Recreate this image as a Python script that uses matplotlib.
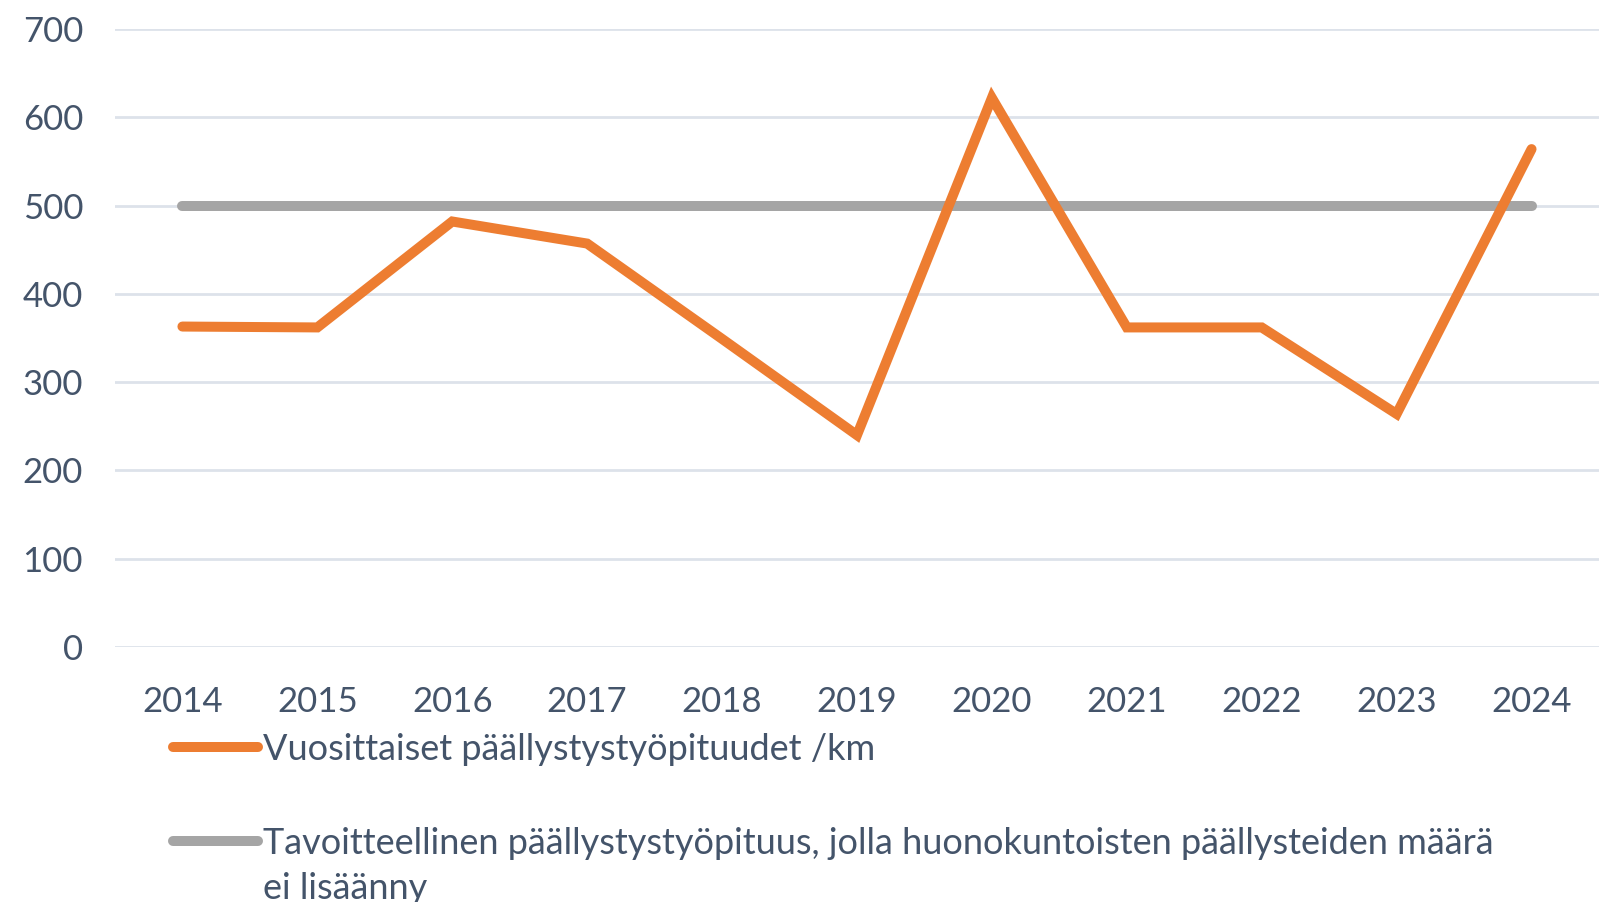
import matplotlib
matplotlib.use("Agg")
import matplotlib.pyplot as plt
from matplotlib.lines import Line2D

years = ["2014", "2015", "2016", "2017", "2018", "2019", "2020", "2021", "2022", "2023", "2024"]
annual_km = [363, 362, 482, 457, 349, 240, 622, 362, 362, 264, 564]
target_km = [500] * len(years)
label_annual = "Vuosittaiset päällystystyöpituudet /km"
label_target = "Tavoitteellinen päällystystyöpituus, jolla huonokuntoisten päällysteiden määrä\nei lisäänny"

text_col = "#44546A"
orange = "#ED7D31"
grey = "#A5A5A5"
plt.rcParams["font.family"] = ["Lato", "DejaVu Sans"]

fig = plt.figure(figsize=(15.99, 9.02), dpi=100)
ax = fig.add_axes([0.0719, 0.2827, 0.9281, 0.6851])

x = range(len(years))
ax.plot(x, target_km, color=grey, lw=7.2, solid_capstyle="round", zorder=3)
ax.plot(x, annual_km, color=orange, lw=7.2, solid_capstyle="round",
        solid_joinstyle="miter", zorder=4)

ax.set_xlim(-0.5, len(years) - 0.5)
ax.set_ylim(0, 700)
ax.set_yticks(range(0, 701, 100))
ax.set_xticks(list(x))
ax.set_xticklabels(years)
ax.grid(axis="y", color="#DDE2EA", lw=2)
ax.set_axisbelow(True)
for s in ax.spines.values():
    s.set_visible(False)
ax.tick_params(length=0, labelsize=25, colors=text_col)
ax.tick_params(axis="y", pad=23)
ax.tick_params(axis="x", pad=28)

# legend drawn by hand so the handle sits on the first text line
W, H = 1599, 902
for y_px, col, lab in [(747, orange, label_annual), (841, grey, label_target)]:
    fig.add_artist(Line2D([173 / W, 258 / W], [1 - y_px / H] * 2, color=col, lw=7.2,
                          solid_capstyle="round"))
    fig.text(263 / W, 1 - (y_px - 14) / H, lab, fontsize=26, color=text_col,
             va="top", ha="left", linespacing=1.45)

fig.savefig("out.png", dpi=100)
